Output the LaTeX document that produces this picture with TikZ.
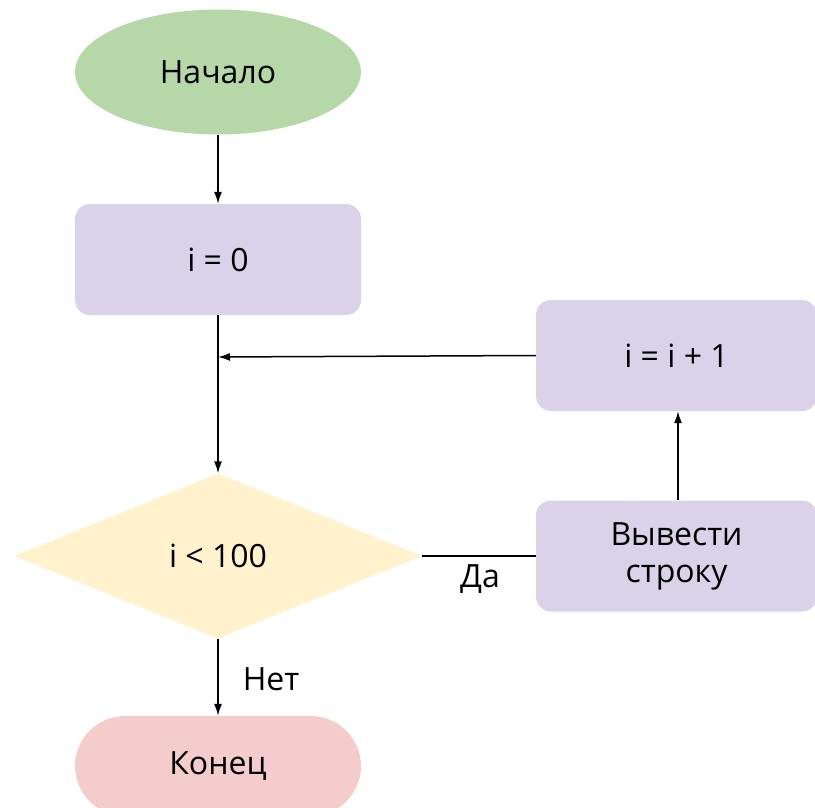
\documentclass[tikz,border=0pt]{standalone}
\usepackage{fontspec}
\setmainfont{Open Sans}
\usetikzlibrary{shapes.geometric,arrows.meta}
\definecolor{startgreen}{HTML}{B6D7A8}
\definecolor{boxviolet}{HTML}{D9D2E9}
\definecolor{condyellow}{HTML}{FFF2CC}
\definecolor{endpink}{HTML}{F4CCCC}
\tikzset{
  txt/.style={font=\fontsize{32}{36}\selectfont, text=black},
  startnode/.style={ellipse, fill=startgreen, minimum width=286pt, minimum height=125pt, inner sep=0pt, txt},
  procbox/.style={rectangle, rounded corners=15pt, fill=boxviolet, minimum height=111pt, inner sep=0pt, align=center, txt},
  condnode/.style={diamond, fill=condyellow, minimum width=408pt, minimum height=165pt, inner sep=0pt, aspect=2.47, txt},
  endnode/.style={rectangle, rounded corners=50pt, fill=endpink, minimum width=286pt, minimum height=100pt, inner sep=0pt, txt},
  conn/.style={line width=1.5pt, draw=black},
  arr/.style={conn, -{Latex[length=12pt,width=8pt]}},
  lbl/.style={txt}
}
\begin{document}
\begin{tikzpicture}[x=1pt,y=-1pt]
\useasboundingbox (0,0) rectangle (815,808);
\clip (0,0) rectangle (815,808);
\node[startnode] (start) at (218,72) {Начало};
\node[procbox, minimum width=286pt] (init) at (218,259.5) {i = 0};
\node[procbox, minimum width=281pt] (inc) at (676.5,355.5) {i = i + 1};
\node[condnode] (cond) at (218,556) {i < 100};
\node[procbox, minimum width=281pt, text width=260pt] (out) at (676.5,556) {Вывести\\[1pt]строку};
\node[endnode] (end) at (218,766) {Конец};
\coordinate (join) at (218,357);
\draw[arr] (start.south) -- (init.north);
\draw[arr] (init.south) -- (cond.north);
\draw[arr] (inc.west) -- (join);
\draw[conn] (cond.east) -- (out.west);
\draw[arr] (out.north -| inc.south) ++(1.5,0) -- ([xshift=1.5pt]inc.south);
\draw[arr] (cond.south) -- (end.north);
\node[lbl] (yes) at (480,579) {Да};
\node[lbl] (no) at (271,679) {Нет};
\end{tikzpicture}
\end{document}
